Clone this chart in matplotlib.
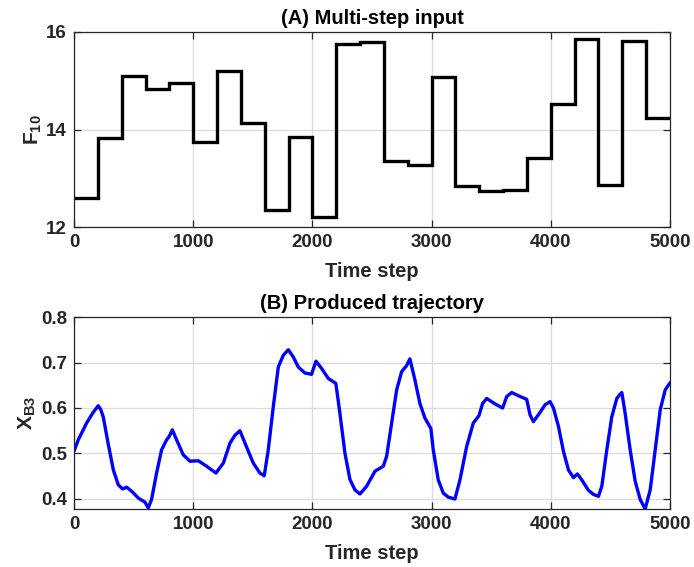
import matplotlib

matplotlib.use("Agg")
import matplotlib.pyplot as plt
import numpy as np

# (A) multi-step input: one level per 200-step block
step_edges = np.arange(0, 5001, 200)
f10_levels = [12.60, 13.83, 15.10, 14.83, 14.96, 13.74, 15.21, 14.14, 12.34, 13.84,
              12.21, 15.75, 15.79, 13.35, 13.27, 15.08, 12.84, 12.73, 12.76, 13.41,
              14.52, 15.86, 12.87, 15.82, 14.23]

# (B) produced trajectory
traj_t = [0, 36, 106, 160, 204, 225, 246, 288, 330, 372, 408, 442, 484, 540, 596, 623,
          651, 693, 735, 777, 800, 825, 861, 917, 973, 1043, 1113, 1191, 1253, 1309, 1350,
          1392, 1434, 1504, 1560, 1596, 1630, 1672, 1714, 1756, 1798, 1840, 1882, 1937,
          1993, 2030, 2077, 2133, 2197, 2231, 2273, 2315, 2357, 2399, 2455, 2525, 2595,
          2623, 2665, 2707, 2749, 2790, 2818, 2860, 2902, 2944, 2994, 3014, 3056, 3098,
          3140, 3196, 3238, 3294, 3350, 3397, 3428, 3462, 3532, 3596, 3630, 3672, 3728,
          3798, 3826, 3854, 3896, 3952, 3994, 4022, 4064, 4106, 4148, 4190, 4223, 4260,
          4316, 4358, 4400, 4428, 4470, 4512, 4554, 4580, 4596, 4624, 4666, 4708, 4750,
          4792, 4834, 4876, 4918, 4960, 5000]
traj_x = [0.505, 0.530, 0.567, 0.590, 0.605, 0.596, 0.580, 0.520, 0.464, 0.431, 0.422,
          0.426, 0.417, 0.402, 0.393, 0.380, 0.399, 0.457, 0.508, 0.530, 0.538, 0.552,
          0.530, 0.497, 0.483, 0.484, 0.472, 0.457, 0.479, 0.523, 0.540, 0.550, 0.523,
          0.479, 0.457, 0.451, 0.508, 0.603, 0.690, 0.716, 0.728, 0.712, 0.690, 0.677,
          0.674, 0.703, 0.687, 0.665, 0.654, 0.588, 0.501, 0.443, 0.420, 0.411, 0.428,
          0.461, 0.472, 0.494, 0.567, 0.640, 0.680, 0.693, 0.708, 0.662, 0.610, 0.578,
          0.555, 0.508, 0.442, 0.413, 0.404, 0.400, 0.442, 0.515, 0.567, 0.583, 0.610,
          0.621, 0.609, 0.600, 0.625, 0.634, 0.627, 0.619, 0.585, 0.570, 0.585, 0.607,
          0.614, 0.600, 0.560, 0.505, 0.464, 0.447, 0.455, 0.442, 0.419, 0.410, 0.406,
          0.428, 0.508, 0.581, 0.621, 0.630, 0.634, 0.588, 0.508, 0.439, 0.399, 0.378,
          0.420, 0.508, 0.596, 0.640, 0.655]

plt.rcParams["font.family"] = ["Liberation Sans", "DejaVu Sans"]
plt.rcParams["font.weight"] = "bold"
plt.rcParams["mathtext.fontset"] = "custom"
plt.rcParams["mathtext.rm"] = "Liberation Sans:bold"
plt.rcParams["mathtext.it"] = "Liberation Sans:bold"
plt.rcParams["mathtext.bf"] = "Liberation Sans:bold"

AX_COLOR = "#262626"


def style_axes(ax):
    ax.grid(True, color="#dcdcdc", linewidth=0.9)
    ax.set_axisbelow(True)
    ax.tick_params(direction="in", top=True, right=True, length=5, width=0.9,
                   color=AX_COLOR, labelcolor=AX_COLOR, labelsize=13.5, pad=5)
    for spine in ax.spines.values():
        spine.set_color(AX_COLOR)
        spine.set_linewidth(0.9)
    ax.set_xlim(0, 5000)
    ax.set_xticks(np.arange(0, 5001, 1000))
    ax.set_xlabel("Time step", fontsize=14.5, fontweight="bold", color=AX_COLOR, labelpad=8)


fig = plt.figure(figsize=(6.94, 5.67), dpi=100)
ax_a = fig.add_axes([0.1066, 0.5996, 0.8588, 0.3440])
ax_b = fig.add_axes([0.1066, 0.1023, 0.8588, 0.3386])

ax_a.stairs(f10_levels, step_edges, color="black", linewidth=2.4, baseline=None)
style_axes(ax_a)
ax_a.set_ylim(12, 16)
ax_a.set_yticks([12, 14, 16])
ax_a.set_ylabel(r"F$_{10}$", fontsize=15, fontweight="bold", color=AX_COLOR, labelpad=2)
ax_a.set_title("(A) Multi-step input", fontsize=14.5, fontweight="bold", pad=6)

ax_b.plot(traj_t, traj_x, color="#0000ff", linewidth=2.4)
style_axes(ax_b)
ax_b.set_ylim(0.378, 0.8)
ax_b.set_yticks([0.4, 0.5, 0.6, 0.7, 0.8])
ax_b.set_ylabel(r"X$_{B3}$", fontsize=15, fontweight="bold", color=AX_COLOR, labelpad=2)
ax_b.set_title("(B) Produced trajectory", fontsize=14.5, fontweight="bold", pad=6)

fig.savefig("out.png", dpi=100)
plt.close(fig)
